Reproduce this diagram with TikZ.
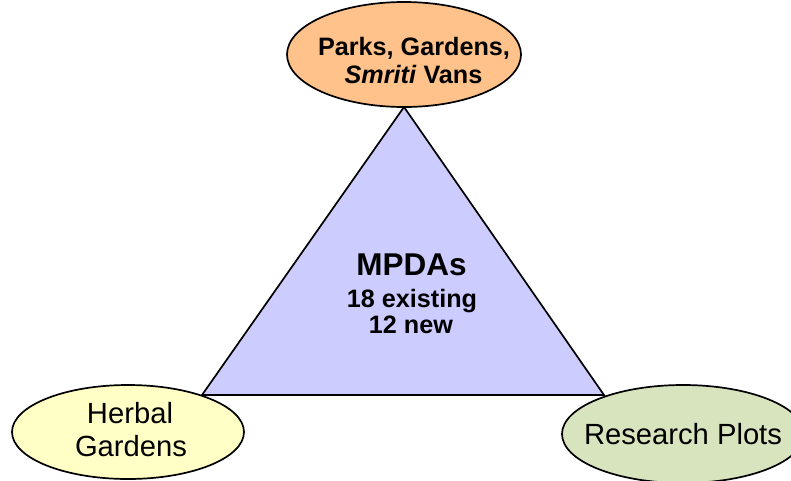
\documentclass[tikz,border=0pt]{standalone}
\usepackage{fontspec}
\setmainfont{Liberation Sans}
\usetikzlibrary{shapes.geometric}
\definecolor{peach}{HTML}{FFC28A}
\definecolor{lavender}{HTML}{CCCCFF}
\definecolor{paleyellow}{HTML}{FFFFC6}
\definecolor{palegreen}{HTML}{D7E4BD}
\begin{document}
\begin{tikzpicture}[x=1pt,y=-1pt,
  oval/.style={draw=black,line width=1.7pt,ellipse,inner sep=0pt},
  boldlbl/.style={anchor=base,inner sep=0pt,font=\fontsize{25.2}{28}\selectfont\bfseries},
  titlelbl/.style={anchor=base,inner sep=0pt,font=\fontsize{31.5}{34}\selectfont\bfseries},
  plainlbl/.style={anchor=base,inner sep=0pt,font=\fontsize{29.2}{33}\selectfont}]
  \useasboundingbox (0,0) rectangle (791,480);

  % central triangle
  \coordinate (apex) at (404,107);
  \coordinate (left) at (202,395);
  \coordinate (right) at (604,395);
  \draw[line width=1.7pt,fill=lavender,line join=miter] (apex) -- (left) -- (right) -- cycle;

  \node[titlelbl] (mpdas) at (411.5,275) {MPDAs};
  \node[boldlbl] (existing) at (412,307) {18 existing};
  \node[boldlbl] (new) at (411,333) {12 new};

  % top ellipse
  \node[oval,fill=peach,minimum width=234pt,minimum height=105pt] (parks) at (404,54.5) {};
  \node[boldlbl] (parks1) at (414,55) {Parks, Gardens,};
  \node[boldlbl] (parks2) at (413.5,83) {\textit{Smriti} Vans};

  % bottom left ellipse
  \node[oval,fill=paleyellow,minimum width=232pt,minimum height=94pt] (herbal) at (128,432) {};
  \node[plainlbl] (herbal1) at (130,423) {Herbal};
  \node[plainlbl] (herbal2) at (131,456) {Gardens};

  % bottom right ellipse
  \node[oval,fill=palegreen,minimum width=242pt,minimum height=98pt] (research) at (683,434) {};
  \node[plainlbl] (research1) at (683,444) {Research Plots};
\end{tikzpicture}
\end{document}
